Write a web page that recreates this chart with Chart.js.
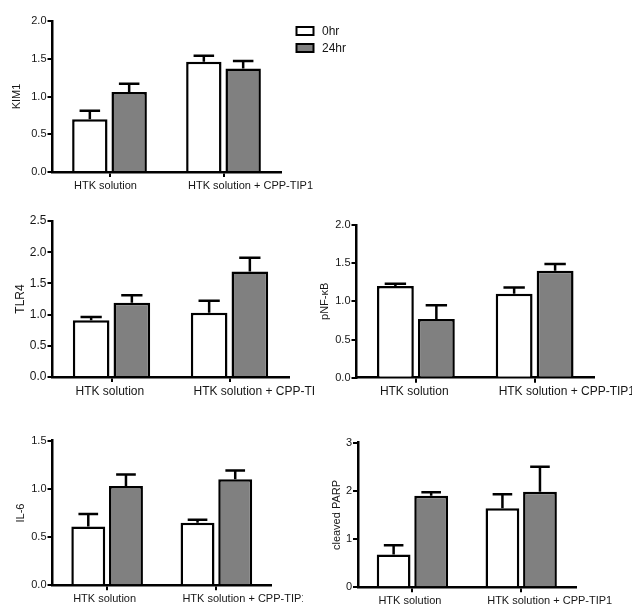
<!DOCTYPE html>
<html>
<head>
<meta charset="utf-8">
<script src="https://cdn.jsdelivr.net/npm/chart.js@4/dist/chart.umd.min.js"></script>
<style>
html, body { margin: 0; padding: 0; background: #fff; overflow: hidden; width: 632px; height: 614px; }
canvas { position: absolute; }
</style>
</head>
<body>
<canvas id="kim1"></canvas>
<canvas id="tlr4"></canvas>
<canvas id="pnf"></canvas>
<canvas id="il6"></canvas>
<canvas id="parp"></canvas>
<script>
// ---- data ----
const categories = ['HTK solution', 'HTK solution + CPP-TIP1'];
const seriesLabels = ['0hr', '24hr'];

const kim1Hr0 = [0.70, 1.46];
const kim1Hr24 = [1.06, 1.37];
const kim1ErrHr0 = [0.11, 0.08];
const kim1ErrHr24 = [0.11, 0.10];
const kim1Ticks = [0, 0.5, 1.0, 1.5, 2.0];

const tlr4Hr0 = [0.91, 1.03];
const tlr4Hr24 = [1.19, 1.69];
const tlr4ErrHr0 = [0.05, 0.19];
const tlr4ErrHr24 = [0.12, 0.22];
const tlr4Ticks = [0, 0.5, 1.0, 1.5, 2.0, 2.5];

const pnfHr0 = [1.20, 1.10];
const pnfHr24 = [0.77, 1.40];
const pnfErrHr0 = [0.03, 0.08];
const pnfErrHr24 = [0.18, 0.09];
const pnfTicks = [0, 0.5, 1.0, 1.5, 2.0];

const il6Hr0 = [0.61, 0.65];
const il6Hr24 = [1.03, 1.10];
const il6ErrHr0 = [0.13, 0.03];
const il6ErrHr24 = [0.12, 0.09];
const il6Ticks = [0, 0.5, 1.0, 1.5];

const parpHr0 = [0.68, 1.64];
const parpHr24 = [1.90, 1.98];
const parpErrHr0 = [0.19, 0.29];
const parpErrHr24 = [0.07, 0.52];
const parpTicks = [0, 1, 2, 3];

// ---- styling ----
const FONT = "'Liberation Sans', Arial, Helvetica, sans-serif";
const TEXT = '#161616';
const GRAY = '#808080';

const errorBars = {
  id: 'errorBars',
  afterDatasetsDraw(chart) {
    const ctx = chart.ctx;
    const y = chart.scales.y;
    chart.data.datasets.forEach((ds, i) => {
      const meta = chart.getDatasetMeta(i);
      meta.data.forEach((bar, j) => {
        const top = y.getPixelForValue(ds.data[j] + ds.errors[j]);
        const half = bar.width * 0.29;
        ctx.save();
        ctx.strokeStyle = '#000';
        ctx.lineWidth = 2.5;
        ctx.beginPath();
        ctx.moveTo(bar.x, bar.y);
        ctx.lineTo(bar.x, top);
        ctx.moveTo(bar.x - half, top);
        ctx.lineTo(bar.x + half, top);
        ctx.stroke();
        ctx.restore();
      });
    });
  }
};

const boxLegend = {
  id: 'boxLegend',
  afterDraw(chart, args, opts) {
    if (!opts || !opts.show) return;
    const ctx = chart.ctx;
    chart.data.datasets.forEach((ds, i) => {
      const bx = opts.x, by = opts.y + i * opts.rowGap;
      ctx.save();
      ctx.fillStyle = ds.backgroundColor;
      ctx.strokeStyle = '#000';
      ctx.lineWidth = 2;
      ctx.beginPath();
      ctx.rect(bx, by, opts.boxW, opts.boxH);
      ctx.fill();
      ctx.stroke();
      ctx.fillStyle = TEXT;
      ctx.font = opts.fontSize + 'px ' + FONT;
      ctx.textBaseline = 'middle';
      ctx.textAlign = 'left';
      ctx.fillText(ds.label, opts.textX, by + opts.boxH / 2 + 0.5);
      ctx.restore();
    });
  }
};

function makePanel(id, p) {
  const cv = document.getElementById(id);
  cv.width = p.width;
  cv.height = p.height;
  cv.style.left = p.left + 'px';
  cv.style.top = p.top + 'px';
  const tickFont = { family: FONT, size: p.tickSize };
  return new Chart(cv, {
    type: 'bar',
    data: {
      labels: categories,
      datasets: [
        { label: seriesLabels[0], data: p.d0, errors: p.e0, backgroundColor: '#ffffff',
          borderColor: '#000', borderWidth: 2.5, borderSkipped: 'bottom',
          categoryPercentage: 0.69, barPercentage: 0.9 },
        { label: seriesLabels[1], data: p.d1, errors: p.e1, backgroundColor: GRAY,
          borderColor: '#000', borderWidth: 2.5, borderSkipped: 'bottom',
          categoryPercentage: 0.69, barPercentage: 0.9 }
      ]
    },
    options: {
      responsive: false,
      animation: false,
      events: [],
      layout: { padding: { left: 0, top: p.axisTop - p.top, right: p.left + p.width - p.axisRight, bottom: 0 } },
      plugins: {
        legend: { display: false },
        tooltip: { enabled: false },
        boxLegend: p.legend || { show: false }
      },
      scales: {
        x: {
          offset: true,
          grid: { offset: false, drawOnChartArea: false, drawTicks: true, tickLength: 5, color: '#000', lineWidth: 2 },
          border: { display: true, color: '#000', width: 2.5 },
          ticks: { align: 'start', labelOffset: p.labelOffset, padding: 2, color: TEXT,
                   font: { family: FONT, size: p.labelSize }, maxRotation: 0, minRotation: 0, autoSkip: false },
          afterFit(s) { s.height = p.top + p.height - p.axisBottom; s.paddingLeft = 0; s.paddingRight = 0; }
        },
        y: {
          min: 0,
          max: p.ticks[p.ticks.length - 1],
          afterBuildTicks(s) { s.ticks = p.ticks.map(v => ({ value: v })); },
          ticks: { padding: 1, color: TEXT, font: tickFont,
                   callback: v => (p.decimals ? Number(v).toFixed(1) : String(v)) },
          grid: { drawOnChartArea: false, drawTicks: true, tickLength: 5, color: '#000', lineWidth: 2 },
          border: { display: true, color: '#000', width: 2.5 },
          title: { display: true, text: p.title, color: TEXT, font: { family: FONT, size: p.titleSize },
                   padding: { top: p.titlePad, bottom: 0 } },
          afterFit(s) { s.width = p.axisLeft - p.left; s.paddingTop = 0; s.paddingBottom = 0; }
        }
      }
    },
    plugins: [errorBars, boxLegend]
  });
}

makePanel('kim1', {
  left: 0, top: 0, width: 400, height: 200,
  axisLeft: 52.5, axisRight: 280.5, axisTop: 21, axisBottom: 172,
  d0: kim1Hr0, d1: kim1Hr24, e0: kim1ErrHr0, e1: kim1ErrHr24, ticks: kim1Ticks, decimals: true,
  title: 'KIM1', titleSize: 11, titlePad: 10.5, tickSize: 11, labelSize: 11, labelOffset: -35.5,
  legend: { show: true, x: 296.5, y: 27, rowGap: 17, boxW: 17, boxH: 8, textX: 322, fontSize: 12 }
});

makePanel('tlr4', {
  left: 0, top: 200, width: 316, height: 205,
  axisLeft: 52.5, axisRight: 288.5, axisTop: 221, axisBottom: 377,
  d0: tlr4Hr0, d1: tlr4Hr24, e0: tlr4ErrHr0, e1: tlr4ErrHr24, ticks: tlr4Ticks, decimals: true,
  title: 'TLR4', titleSize: 12, titlePad: 13.5, tickSize: 12, labelSize: 12, labelOffset: -36
});

makePanel('pnf', {
  left: 300, top: 200, width: 332, height: 205,
  axisLeft: 356.5, axisRight: 594, axisTop: 225, axisBottom: 377.7,
  d0: pnfHr0, d1: pnfHr24, e0: pnfErrHr0, e1: pnfErrHr24, ticks: pnfTicks, decimals: true,
  title: 'pNF-κB', titleSize: 11, titlePad: 18, tickSize: 11, labelSize: 12, labelOffset: -36
});

makePanel('il6', {
  left: 0, top: 410, width: 303, height: 204,
  axisLeft: 52.5, axisRight: 271, axisTop: 440.7, axisBottom: 585.3,
  d0: il6Hr0, d1: il6Hr24, e0: il6ErrHr0, e1: il6ErrHr24, ticks: il6Ticks, decimals: true,
  title: 'IL-6', titleSize: 11, titlePad: 14, tickSize: 11, labelSize: 11, labelOffset: -34
});

makePanel('parp', {
  left: 300, top: 410, width: 332, height: 204,
  axisLeft: 358, axisRight: 575.6, axisTop: 442.7, axisBottom: 587.3,
  d0: parpHr0, d1: parpHr24, e0: parpErrHr0, e1: parpErrHr24, ticks: parpTicks, decimals: false,
  title: 'cleaved PARP', titleSize: 11, titlePad: 30, tickSize: 11, labelSize: 11, labelOffset: -34
});
</script>
</body>
</html>
